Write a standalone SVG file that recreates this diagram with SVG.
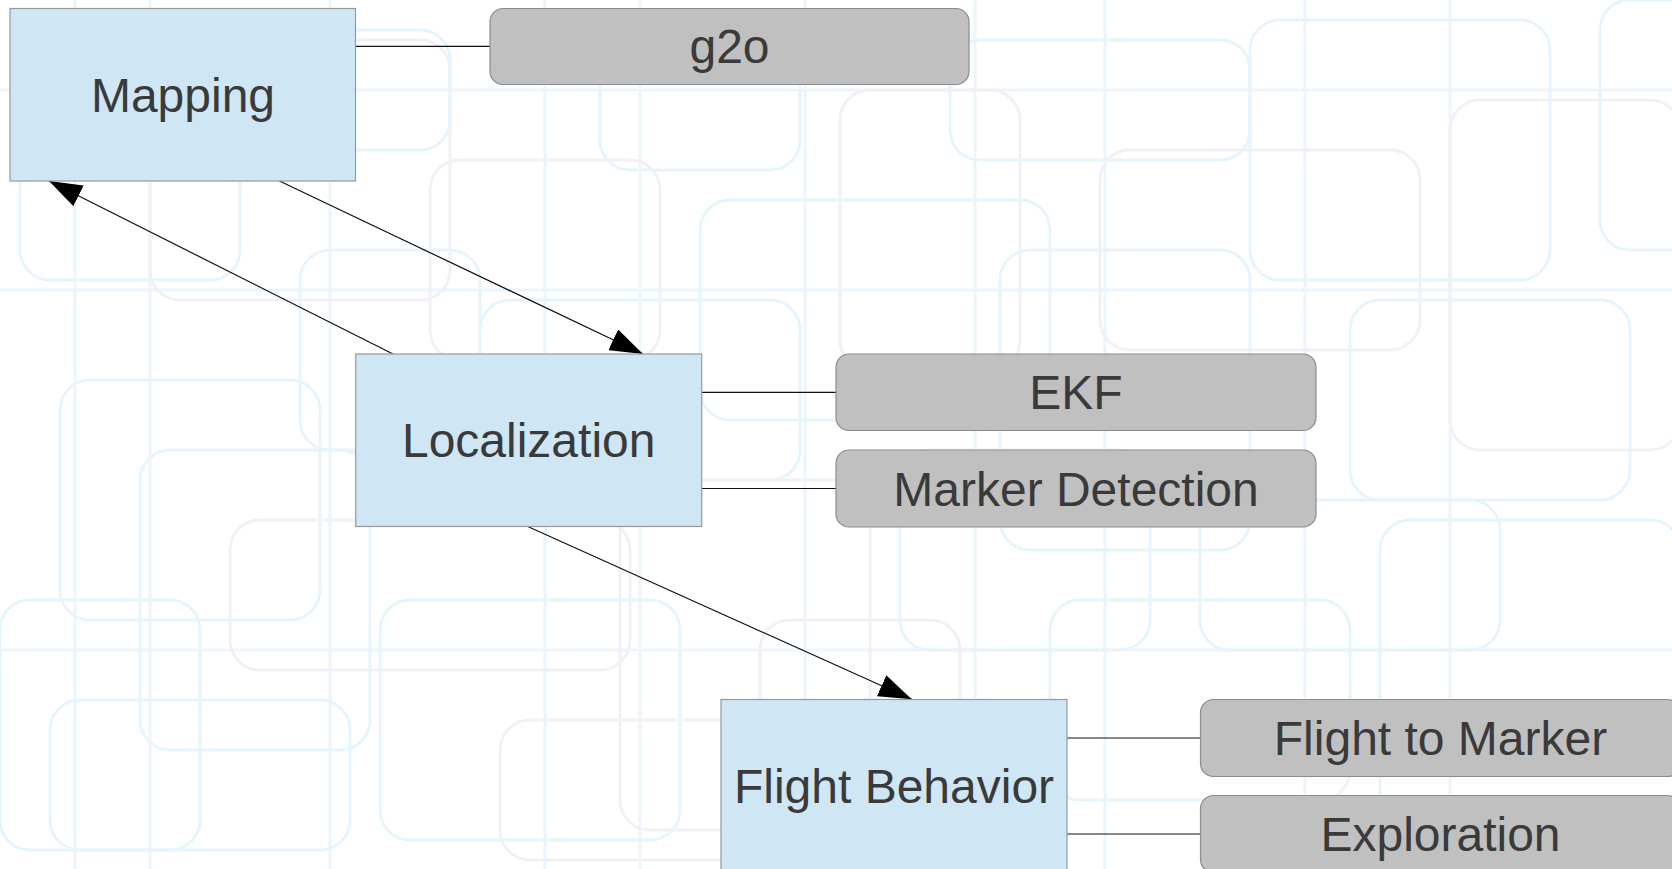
<svg xmlns="http://www.w3.org/2000/svg" width="1672" height="869" viewBox="0 0 1672 869">
<defs>
<style>
.bgb{fill:none;stroke:#e6f4fb;stroke-width:3}
.bgg{fill:none;stroke:#f1f1f5;stroke-width:3}
.bgl{stroke:#eaf6fb;stroke-width:3}
.main{fill:#cfe6f4;stroke:#999999;stroke-width:1.2}
.sub{fill:#c0c0c0;stroke:#8c8c8c;stroke-width:1.2}
.t{font-family:"Liberation Sans",Arial,sans-serif;font-size:48px;fill:#3a3a3a;text-anchor:middle}
.c{stroke:#111;stroke-width:1.2;fill:none}
</style>
<marker id="ah" markerUnits="userSpaceOnUse" markerWidth="33" markerHeight="23" viewBox="0 0 33 23" refX="33" refY="11.5" orient="auto">
<path d="M0,0 L33,11.5 L0,23 z" fill="#000"/>
</marker>
</defs>
<rect width="1672" height="869" fill="#ffffff"/>
<g id="background">
<line class="bgl" x1="75" y1="0" x2="75" y2="869"/>
<line class="bgl" x1="150" y1="0" x2="150" y2="869"/>
<line class="bgl" x1="330" y1="0" x2="330" y2="869"/>
<line class="bgl" x1="545" y1="0" x2="545" y2="869"/>
<line class="bgl" x1="640" y1="0" x2="640" y2="869"/>
<line class="bgl" x1="805" y1="0" x2="805" y2="869"/>
<line class="bgl" x1="975" y1="0" x2="975" y2="869"/>
<line class="bgl" x1="1105" y1="0" x2="1105" y2="869"/>
<line class="bgl" x1="1305" y1="0" x2="1305" y2="869"/>
<line class="bgl" x1="1450" y1="0" x2="1450" y2="869"/>
<line class="bgl" x1="0" y1="90" x2="1672" y2="90"/>
<line class="bgl" x1="0" y1="290" x2="1672" y2="290"/>
<line class="bgl" x1="0" y1="650" x2="1672" y2="650"/>
<rect class="bgb" x="20" y="100" width="220" height="180" rx="30"/>
<rect class="bgg" x="150" y="40" width="300" height="260" rx="30"/>
<rect class="bgb" x="300" y="250" width="180" height="200" rx="30"/>
<rect class="bgb" x="60" y="380" width="260" height="240" rx="30"/>
<rect class="bgg" x="230" y="520" width="400" height="150" rx="30"/>
<rect class="bgb" x="0" y="600" width="200" height="250" rx="30"/>
<rect class="bgb" x="140" y="450" width="230" height="300" rx="30"/>
<rect class="bgg" x="430" y="160" width="230" height="200" rx="30"/>
<rect class="bgb" x="480" y="300" width="320" height="180" rx="30"/>
<rect class="bgb" x="600" y="30" width="200" height="140" rx="30"/>
<rect class="bgb" x="700" y="200" width="350" height="220" rx="30"/>
<rect class="bgg" x="840" y="90" width="180" height="280" rx="30"/>
<rect class="bgb" x="950" y="40" width="300" height="120" rx="30"/>
<rect class="bgb" x="1000" y="250" width="250" height="300" rx="30"/>
<rect class="bgg" x="1100" y="150" width="320" height="200" rx="30"/>
<rect class="bgb" x="1250" y="20" width="300" height="260" rx="30"/>
<rect class="bgb" x="1350" y="300" width="280" height="200" rx="30"/>
<rect class="bgg" x="1450" y="100" width="230" height="350" rx="30"/>
<rect class="bgb" x="1200" y="500" width="300" height="150" rx="30"/>
<rect class="bgb" x="900" y="450" width="250" height="200" rx="30"/>
<rect class="bgg" x="620" y="480" width="250" height="350" rx="30"/>
<rect class="bgb" x="380" y="600" width="300" height="240" rx="30"/>
<rect class="bgb" x="50" y="700" width="300" height="150" rx="30"/>
<rect class="bgg" x="760" y="620" width="200" height="230" rx="30"/>
<rect class="bgb" x="1050" y="600" width="300" height="200" rx="30"/>
<rect class="bgb" x="1380" y="520" width="300" height="300" rx="30"/>
<rect class="bgb" x="250" y="30" width="200" height="120" rx="30"/>
<rect class="bgb" x="1600" y="0" width="100" height="250" rx="30"/>
<rect class="bgg" x="500" y="720" width="250" height="140" rx="30"/>
</g>
<g id="connectors">
<line class="c" x1="355.5" y1="46.3" x2="490" y2="46.3"/>
<line class="c" x1="701.7" y1="392.3" x2="836" y2="392.3"/>
<line class="c" x1="701.7" y1="488.5" x2="836" y2="488.5"/>
<line class="c" x1="1066.7" y1="738" x2="1200.5" y2="738"/>
<line class="c" x1="1066.7" y1="834" x2="1200.5" y2="834"/>
<line class="c" x1="279.4" y1="181" x2="643" y2="354" marker-end="url(#ah)"/>
<line class="c" x1="393" y1="354" x2="49" y2="181" marker-end="url(#ah)"/>
<line class="c" x1="528.3" y1="526.7" x2="911.7" y2="699.3" marker-end="url(#ah)"/>
</g>
<g id="mapping"><rect class="main" x="10" y="8.5" width="345.5" height="172.5"/><text class="t" x="183" y="112">Mapping</text></g>
<g id="g2o"><rect class="sub" x="490" y="8.5" width="479" height="76" rx="13"/><text class="t" x="729.5" y="63">g2o</text></g>
<g id="localization"><rect class="main" x="355.7" y="354" width="346" height="172.5"/><text class="t" x="528.7" y="457">Localization</text></g>
<g id="ekf"><rect class="sub" x="836" y="354" width="480" height="76.5" rx="13"/><text class="t" x="1076" y="408.5">EKF</text></g>
<g id="marker-detection"><rect class="sub" x="836" y="450" width="480" height="77" rx="13"/><text class="t" x="1076" y="505.5">Marker Detection</text></g>
<g id="flight-behavior"><rect class="main" x="721" y="699.5" width="346" height="172.5"/><text class="t" x="894" y="803">Flight Behavior</text></g>
<g id="flight-to-marker"><rect class="sub" x="1200.5" y="699.5" width="480" height="77" rx="13"/><text class="t" x="1440.5" y="755">Flight to Marker</text></g>
<g id="exploration"><rect class="sub" x="1200.5" y="795.5" width="480" height="77" rx="13"/><text class="t" x="1440.5" y="851">Exploration</text></g>
</svg>
